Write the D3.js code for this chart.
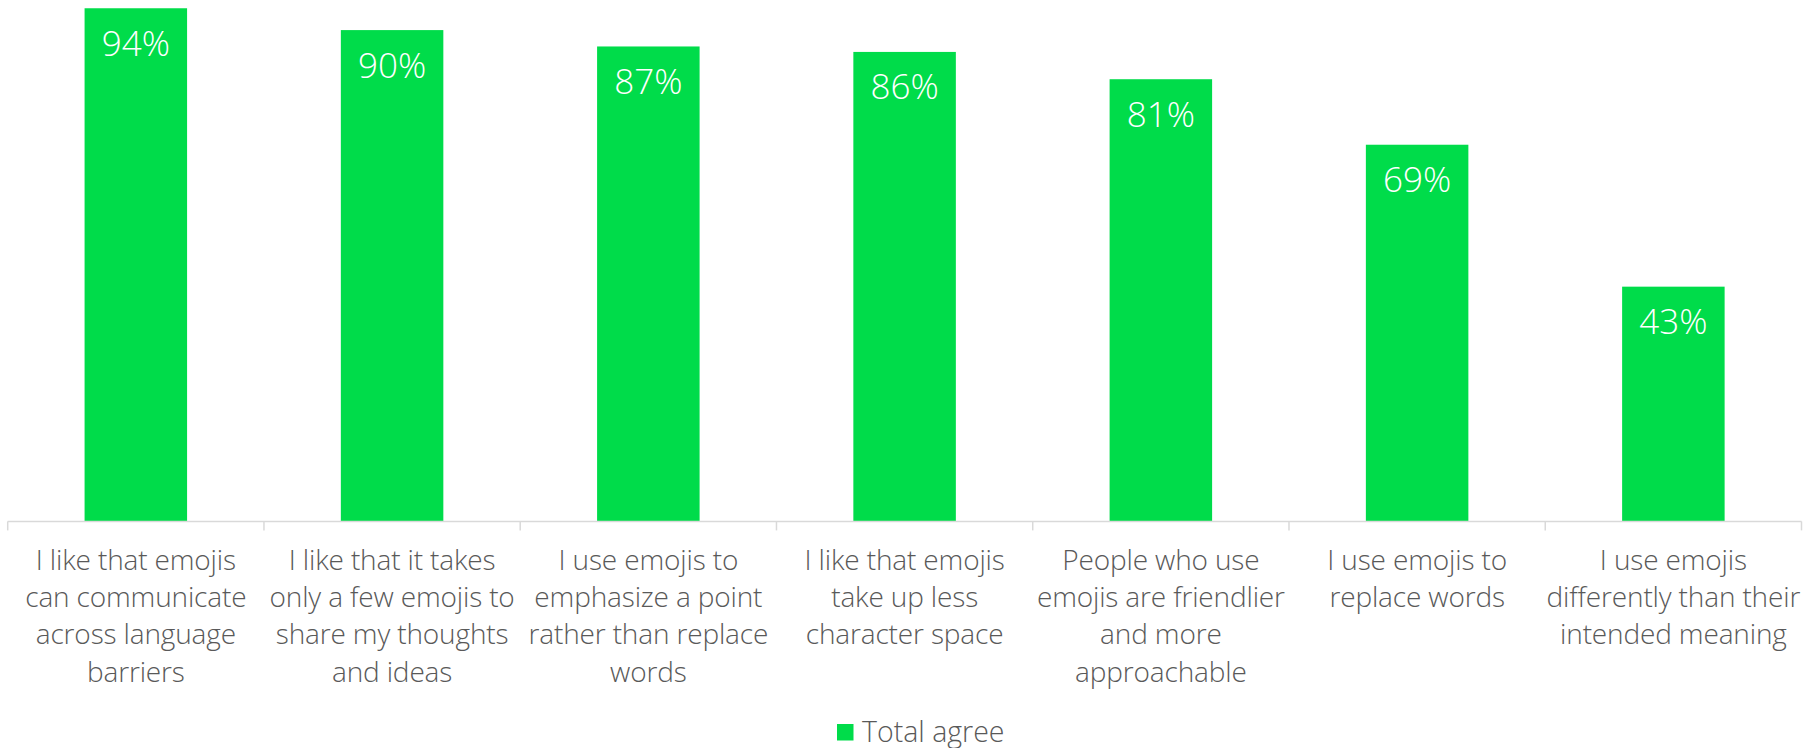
<!DOCTYPE html>
<html>
<head>
<meta charset="utf-8">
<script src="https://cdn.jsdelivr.net/npm/d3@7"></script>
<style>
  html, body { margin: 0; padding: 0; background: #fff; }
  svg { display: block; }
  text { font-family: "Open Sans", "Noto Sans", sans-serif; font-weight: 300; }
</style>
</head>
<body>
<svg id="chart" width="1803" height="748"></svg>
<script>
// Survey statements (line breaks mark how each axis label wraps)
const categories = [
  "I like that emojis\ncan communicate\nacross language\nbarriers",
  "I like that it takes\nonly a few emojis to\nshare my thoughts\nand ideas",
  "I use emojis to\nemphasize a point\nrather than replace\nwords",
  "I like that emojis\ntake up less\ncharacter space",
  "People who use\nemojis are friendlier\nand more\napproachable",
  "I use emojis to\nreplace words",
  "I use emojis\ndifferently than their\nintended meaning"
];
// Share of respondents who agree, in percent
const totalAgree = [94, 90, 87, 86, 81, 69, 43];
const seriesName = "Total agree";

const GREEN = "#00dc4a";
const TEXT = "#595959";
const AXIS = "#d9d9d9";

const svg = d3.select("#chart");
const plot = { left: 7.7, right: 1801.5, bottom: 521.4, top: -24.5 };

const x = d3.scaleBand()
  .domain(categories)
  .range([plot.left, plot.right])
  .paddingInner(0.6)
  .paddingOuter(0.3);

const y = d3.scaleLinear()
  .domain([0, 100])
  .range([plot.bottom, plot.top]);

const data = categories.map((c, i) => ({ cat: c, value: totalAgree[i] }));

// Bars
svg.append("g").selectAll("rect")
  .data(data)
  .join("rect")
  .attr("x", d => x(d.cat))
  .attr("y", d => y(d.value))
  .attr("width", x.bandwidth())
  .attr("height", d => y(0) - y(d.value))
  .attr("fill", GREEN);

// Value labels inside the top of each bar
svg.append("g").selectAll("text")
  .data(data)
  .join("text")
  .attr("x", d => x(d.cat) + x.bandwidth() / 2)
  .attr("y", d => y(d.value) + 47.5)
  .attr("text-anchor", "middle")
  .attr("fill", "#fff")
  .style("font-size", "35px")
  .text(d => d.value + "%");

// Category axis: baseline with ticks at band boundaries
const axisG = svg.append("g");
axisG.append("line")
  .attr("x1", plot.left).attr("x2", plot.right)
  .attr("y1", y(0)).attr("y2", y(0))
  .attr("stroke", AXIS).attr("stroke-width", 1.5);

const step = x.step();
const boundaries = categories.map(c => x(c) - step * x.paddingInner() / 2)
  .concat([x(categories[categories.length - 1]) + x.bandwidth() + step * x.paddingInner() / 2]);
axisG.selectAll("line.tick")
  .data(boundaries)
  .join("line")
  .attr("class", "tick")
  .attr("x1", d => d).attr("x2", d => d)
  .attr("y1", y(0)).attr("y2", y(0) + 9)
  .attr("stroke", AXIS).attr("stroke-width", 1.5);

// Wrapped category labels
const labels = axisG.selectAll("text.cat")
  .data(categories)
  .join("text")
  .attr("class", "cat")
  .attr("text-anchor", "middle")
  .attr("fill", TEXT)
  .style("font-size", "28px")
  .style("letter-spacing", "-0.15px")
  .attr("transform", d => `translate(${x(d) + x.bandwidth() / 2},570)`);
labels.selectAll("tspan")
  .data(d => d.split("\n"))
  .join("tspan")
  .attr("x", 0)
  .attr("y", (d, i) => i * 37.2)
  .text(d => d);

// Legend
const legend = svg.append("g").attr("transform", "translate(837,724)");
legend.append("rect")
  .attr("width", 16.5).attr("height", 16.5)
  .attr("fill", GREEN);
legend.append("text")
  .attr("x", 25).attr("y", 17.5)
  .attr("fill", TEXT)
  .style("font-size", "28.5px")
  .text(seriesName);
</script>
</body>
</html>
